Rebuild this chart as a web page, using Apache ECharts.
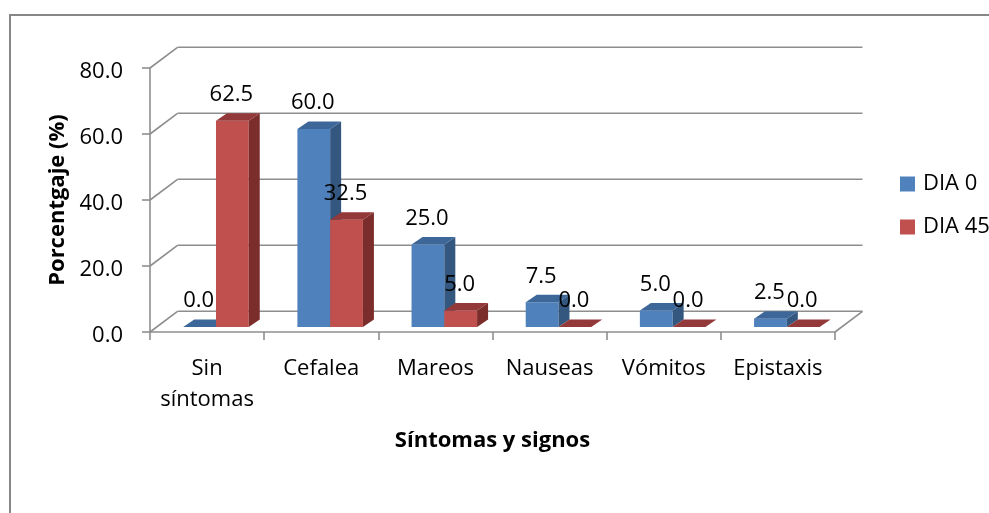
<!DOCTYPE html>
<html lang="es">
<head>
    <meta charset="UTF-8">
    <script src="https://cdn.jsdelivr.net/npm/echarts@6/dist/echarts.min.js"></script>
    <style>
        html, body { margin: 0; padding: 0; background: #fff; }
        #graph { width: 989px; height: 513px; }
    </style>
</head>
<body>
    <section id="graph"></section>
    <script>
        // datos
        const categories = ['Sin\nsíntomas', 'Cefalea', 'Mareos', 'Nauseas', 'Vómitos', 'Epistaxis'];
        const dia0 = [0.0, 60.0, 25.0, 7.5, 5.0, 2.5];
        const dia45 = [62.5, 32.5, 5.0, 0.0, 0.0, 0.0];
        const yTicks = [0, 20, 40, 60, 80];

        // geometria del efecto 3D (pixeles)
        const WALL_DX = 27.5, WALL_DY = -20.7;   // profundidad del fondo
        const BASE_DX = 8.9, BASE_DY = -5;       // plano de las barras
        const BAR_DX = 11, BAR_DY = -7.5;        // grosor de la barra
        const BAR_RATIO = 0.287;
        const GRID_COLOR = '#8e8e8e';
        const FONT = '"Open Sans", "Noto Sans", sans-serif';

        const blue = { front: '#4f81bd', side: '#34577f', top: '#3d6799' };
        const red = { front: '#c0504d', side: '#7b2d2b', top: '#93393a' };

        function barRenderer(left, colors) {
            return function (params, api) {
                const i = api.value(0);
                const v = api.value(1);
                const base = api.coord([i, 0]);
                const top = api.coord([i, v]);
                const bw = api.size([1, 0])[0] * BAR_RATIO;
                const cx = base[0] + BASE_DX;
                const x0 = left ? cx - bw : cx;
                const x1 = x0 + bw;
                const yb = base[1] + BASE_DY;
                const yt = top[1] + BASE_DY;
                const children = [];
                if (v > 0) {
                    children.push({
                        type: 'polygon',
                        shape: { points: [[x0, yt], [x1, yt], [x1, yb], [x0, yb]] },
                        style: { fill: colors.front }
                    });
                    children.push({
                        type: 'polygon',
                        shape: { points: [[x1, yt], [x1 + BAR_DX, yt + BAR_DY], [x1 + BAR_DX, yb + BAR_DY], [x1, yb]] },
                        style: { fill: colors.side }
                    });
                }
                children.push({
                    type: 'polygon',
                    shape: { points: [[x0, yt], [x1, yt], [x1 + BAR_DX, yt + BAR_DY], [x0 + BAR_DX, yt + BAR_DY]] },
                    style: { fill: colors.top }
                });
                children.push({
                    type: 'text',
                    z2: 100,
                    style: {
                        x: (x0 + x1) / 2 - 1,
                        y: yt - 26,
                        text: v.toFixed(1),
                        fill: '#000',
                        font: '22px ' + FONT,
                        align: 'center',
                        verticalAlign: 'middle'
                    }
                });
                return { type: 'group', children: children };
            };
        }

        function wallRenderer(params, api) {
            const cs = params.coordSys;
            const v = api.value(1);
            const y = api.coord([0, v])[1];
            const line = (x1, y1, x2, y2) => ({
                type: 'line',
                shape: { x1: x1, y1: y1, x2: x2, y2: y2 },
                style: { stroke: GRID_COLOR, lineWidth: 1.6 }
            });
            const children = [
                line(cs.x, y, cs.x + WALL_DX, y + WALL_DY),
                line(cs.x + WALL_DX, y + WALL_DY, cs.x + cs.width + WALL_DX, y + WALL_DY)
            ];
            if (v === 0) {
                children.push(line(cs.x + cs.width, y, cs.x + cs.width + WALL_DX, y + WALL_DY));
            }
            return { type: 'group', children: children };
        }

        const myChart = echarts.init(document.getElementById('graph'), null, { renderer: 'canvas' });

        const option = {
            animation: false,
            backgroundColor: '#fff',
            textStyle: { fontFamily: FONT },
            graphic: [{
                type: 'rect',
                z: -10,
                shape: { x: 10, y: 15, width: 1500, height: 1000 },
                style: { fill: 'none', stroke: '#878787', lineWidth: 2 }
            }],
            legend: {
                data: ['DIA 0', 'DIA 45'],
                orient: 'vertical',
                left: 900,
                top: 172,
                padding: 0,
                icon: 'rect',
                itemWidth: 15,
                itemHeight: 15,
                itemGap: 19,
                textStyle: { fontSize: 22, color: '#000', lineHeight: 24, padding: [0, 0, 0, 3] }
            },
            grid: { left: 150, right: 154, top: 68, bottom: 181 },
            xAxis: {
                type: 'category',
                data: categories,
                boundaryGap: true,
                name: 'Síntomas y signos',
                nameLocation: 'middle',
                nameGap: 98,
                nameTextStyle: { fontSize: 22, fontWeight: 'bold', color: '#000' },
                axisLine: { lineStyle: { color: GRID_COLOR, width: 1.6 } },
                axisTick: { show: true, length: 8, alignWithLabel: false, lineStyle: { color: GRID_COLOR, width: 1.6 } },
                axisLabel: { fontSize: 22, color: '#000', margin: 21, lineHeight: 31, interval: 0 },
                splitLine: { show: false }
            },
            yAxis: {
                type: 'value',
                min: 0,
                max: 80,
                interval: 20,
                name: 'Porcentgaje (%)',
                nameLocation: 'middle',
                nameGap: 78,
                nameTextStyle: { fontSize: 22, fontWeight: 'bold', color: '#000' },
                axisLine: { show: true, lineStyle: { color: GRID_COLOR, width: 1.6 } },
                axisTick: { show: true, length: 8, lineStyle: { color: GRID_COLOR, width: 1.6 } },
                axisLabel: {
                    fontSize: 22, color: '#000', margin: 27,
                    verticalAlign: 'top', lineHeight: 8,
                    formatter: v => v.toFixed(1)
                },
                splitLine: { show: false }
            },
            series: [
                {
                    name: 'wall',
                    type: 'custom',
                    silent: true,
                    clip: false,
                    z: 1,
                    renderItem: wallRenderer,
                    encode: { x: 0, y: 1 },
                    data: yTicks.map(v => [0, v])
                },
                {
                    name: 'DIA 0',
                    type: 'custom',
                    clip: false,
                    z: 2,
                    itemStyle: { color: blue.front },
                    renderItem: barRenderer(true, blue),
                    encode: { x: 0, y: 1 },
                    data: dia0.map((v, i) => [i, v])
                },
                {
                    name: 'DIA 45',
                    type: 'custom',
                    clip: false,
                    z: 2,
                    itemStyle: { color: red.front },
                    renderItem: barRenderer(false, red),
                    encode: { x: 0, y: 1 },
                    data: dia45.map((v, i) => [i, v])
                }
            ]
        };

        myChart.setOption(option);
    </script>
</body>
</html>
